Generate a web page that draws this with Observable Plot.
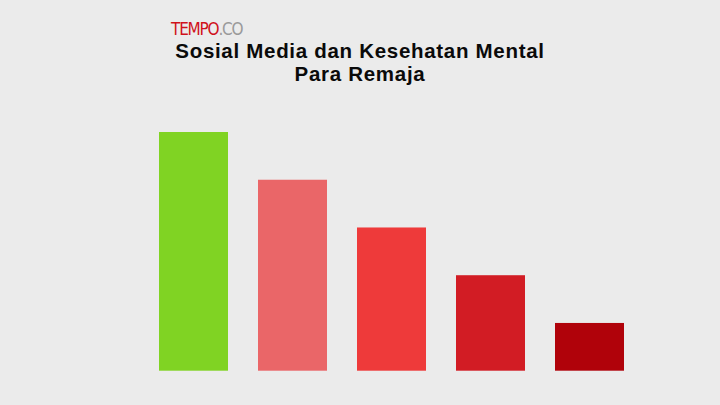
<!DOCTYPE html>
<html>
<head>
<meta charset="utf-8">
<script src="https://cdn.jsdelivr.net/npm/d3@7"></script>
<script src="https://cdn.jsdelivr.net/npm/@observablehq/plot@0.6"></script>
<style>
  html, body { margin: 0; padding: 0; background: #ebebeb; }
  #wrap { position: relative; width: 720px; height: 405px; overflow: hidden; }
  #logo { position: absolute; left: 171px; top: 19px; font-family: "Liberation Sans Narrow", "DejaVu Sans Condensed", sans-serif; font-stretch: condensed; font-size: 17px; letter-spacing: -1.2px; line-height: normal; }
  #logo .t { color: #d0121b; }
  #logo .c { color: #9a9a9a; font-weight: 300; }
  .title { position: absolute; left: 0; width: 720px; text-align: center; font-family: "Liberation Sans", Arial, sans-serif; font-weight: 700; font-size: 20.5px; line-height: 23px; letter-spacing: 0.7px; color: #0a0a0a; white-space: nowrap; }
  #t1 { top: 38.9px; }
  #t2 { top: 61.9px; }
  #chart { position: absolute; left: 0; top: 0; }
</style>
</head>
<body>
<div id="wrap">
  <div id="chart"></div>
  <div id="logo"><span class="t">TEMPO</span><span class="c">.CO</span></div>
  <div class="title" id="t1">Sosial Media dan Kesehatan Mental</div>
  <div class="title" id="t2">Para Remaja</div>
</div>
<script>
const categories = ["A", "B", "C", "D", "E"];
const values = [100, 80, 60, 40, 20];
const colors = ["#80d323", "#ea6668", "#ee3a3a", "#d21c24", "#b0020a"];

const data = categories.map((c, i) => ({category: c, value: values[i], color: colors[i]}));

const chart = Plot.plot({
  width: 720,
  height: 405,
  marginLeft: 129,
  marginRight: 66,
  marginTop: 132,
  marginBottom: 34.3,
  style: {background: "transparent"},
  x: {domain: categories, padding: 0.303, axis: null},
  y: {domain: [0, 100], axis: null},
  marks: [
    Plot.barY(data, {x: "category", y: "value", fill: "color"})
  ]
});
document.getElementById("chart").appendChild(chart);
</script>
</body>
</html>
